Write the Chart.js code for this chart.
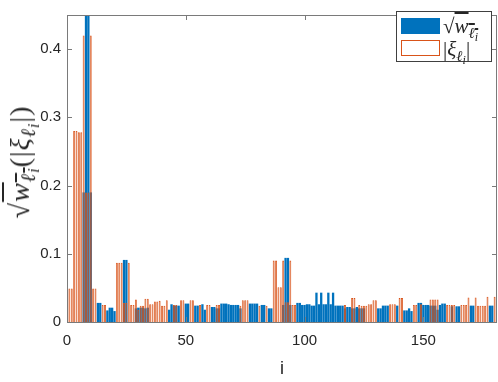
<!DOCTYPE html>
<html>
<head>
<meta charset="utf-8">
<script src="https://cdn.jsdelivr.net/npm/chart.js@4"></script>
<style>
  body { margin: 0; background: #fff; }
  #wrap { position: relative; width: 498px; height: 382px; overflow: hidden; }
  #ytitle {
    position: absolute; left: 20px; top: 162px;
    transform: translate(-50%, -50%) rotate(-90deg);
    white-space: nowrap; font-family: "Liberation Serif", serif; font-size: 28px; color: #262626;
    letter-spacing: 1px;
  }
  #xtitle {
    position: absolute; left: 282px; top: 368px; transform: translate(-50%, -50%);
    font-family: "Liberation Sans", Arial, sans-serif; font-size: 18px; color: #262626;
  }
  .m i { font-style: italic; }
  .ov { text-decoration: overline; }
  sub { font-size: 72%; vertical-align: -0.3em; line-height: 0; }
  sub sub { font-size: 80%; vertical-align: -0.25em; }
  #legend {
    position: absolute; left: 396px; top: 11px; width: 96px; height: 51px;
    border: 1px solid #404040; background: #fff; box-sizing: border-box;
  }
  .sw { position: absolute; left: 4px; width: 39px; height: 16px; box-sizing: border-box; }
  .lt { position: absolute; left: 46px; font-family: "Liberation Serif", serif; font-size: 21px; color: #262626; white-space: nowrap; line-height: 1; }
</style>
</head>
<body>
<div id="wrap">
  <canvas id="chart" width="498" height="382"></canvas>
  <div id="ytitle" class="m">&radic;<span class="ov"><i>w</i><sub><i>&#8467;</i><sub><i>i</i></sub></sub></span>(|<i>&xi;</i><sub><i>&#8467;</i><sub><i>i</i></sub></sub>|)</div>
  <div id="xtitle">i</div>
  <div id="legend">
    <div class="sw" style="top:6px;background:#0072BD"></div>
    <div class="lt m" style="top:4px">&radic;<span class="ov"><i>w</i><sub><i>&#8467;</i><sub><i>i</i></sub></sub></span></div>
    <div class="sw" style="top:28px;border:1px solid #D95319;background:#fff"></div>
    <div class="lt m" style="top:27px">|<i>&xi;</i><sub><i>&#8467;</i><sub><i>i</i></sub></sub>|</div>
  </div>
</div>
<script>
// values, index i = 1..180
const sqrtW = [
  0, 0, 0, 0, 0, 0, .190, .460, .460, .190,
  0, 0, .028, .028, 0, 0, .017, .021, .021, .016,
  0, 0, 0, .091, .091, 0, 0, 0, .020, .021,
  .021, .021, .020, .021, 0, 0, 0, 0, 0, 0,
  0, 0, .018, .026, .024, .024, .024, 0, 0, .027,
  .027, 0, 0, .024, .024, 0, .026, .018, 0, 0,
  .022, .022, .020, .020, .027, .027, .027, .026, .025, .025,
  .025, .025, .020, 0, 0, 0, .027, .027, .027, .027,
  0, .025, .025, 0, .020, .020, 0, 0, 0, 0,
  .025, .094, .094, .025, 0, 0, .028, .028, .025, .025,
  .026, .026, .024, .024, .043, .026, .043, .026, .026, .043,
  .026, .043, .024, .024, .024, .024, .020, .022, .022, .020,
  .020, .022, .020, .020, .020, 0, 0, 0, 0, 0,
  .020, .020, .024, .024, .024, 0, 0, 0, .024, 0,
  0, .017, .017, .020, .016, 0, 0, .028, .028, .025,
  .025, .025, .024, .024, .024, .018, .025, .027, .027, 0,
  0, .023, 0, .023, .023, 0, 0, 0, 0, .024,
  .024, 0, 0, 0, 0, 0, 0, .024, .024, 0
];
const absXi = [
  .049, .049, .280, .280, .278, .278, .420, .190, .190, .420,
  .049, .049, 0, 0, .025, .025, 0, 0, 0, 0,
  .087, .087, .087, .028, .028, .087, .025, .025, .033, .018,
  .024, .024, .034, .034, .026, .026, .030, .030, .031, .024,
  .024, .032, 0, 0, .025, .025, 0, .032, .032, 0,
  0, .032, .032, 0, 0, .025, 0, 0, .025, .025,
  0, 0, .025, .025, 0, 0, 0, 0, 0, 0,
  0, 0, .024, .032, .032, .032, 0, 0, 0, 0,
  .024, 0, 0, .024, 0, 0, .090, .090, .051, .051,
  .090, .029, .029, .090, .025, .025, 0, 0, 0, 0,
  0, 0, 0, 0, 0, 0, 0, 0, 0, 0,
  0, 0, 0, 0, 0, 0, .025, 0, 0, .035,
  .035, 0, .025, .024, .024, .024, .026, .026, .032, .032,
  0, 0, 0, 0, 0, .026, .026, .026, 0, .035,
  .035, 0, 0, 0, 0, .025, .025, 0, .026, 0,
  0, 0, .033, .033, .033, .033, 0, 0, 0, .025,
  .025, .025, .025, 0, 0, .025, .025, .025, .036, 0,
  0, .036, .024, .024, .024, .024, .037, 0, 0, .037
];
const idx = sqrtW.map((_, k) => k + 1);
const xTicks = [0, 50, 100, 150];
const yTicks = [0, 0.1, 0.2, 0.3, 0.4];

const font = { family: "'Liberation Sans', Arial, sans-serif", size: 15 };
const axisCol = "#262626";

// box around the axes plus inward ticks on all four sides, MATLAB style
const axisBox = {
  id: "axisBox",
  afterDatasetsDraw(c) {
    const { ctx, chartArea: a, scales: { x, y } } = c;
    ctx.save();
    ctx.strokeStyle = "#7a7a7a";
    ctx.lineWidth = 1;
    ctx.beginPath();
    xTicks.forEach(v => {
      const px = Math.round(x.getPixelForValue(v)) + 0.5;
      ctx.moveTo(px, a.bottom); ctx.lineTo(px, a.bottom - 5);
      ctx.moveTo(px, a.top); ctx.lineTo(px, a.top + 5);
    });
    yTicks.forEach(v => {
      const py = Math.round(y.getPixelForValue(v)) + 0.5;
      ctx.moveTo(a.left, py); ctx.lineTo(a.left + 5, py);
      ctx.moveTo(a.right, py); ctx.lineTo(a.right - 5, py);
    });
    ctx.stroke();
    ctx.strokeRect(Math.round(a.left) + 0.5, Math.round(a.top) + 0.5,
      Math.round(a.right - a.left) - 1, Math.round(a.bottom - a.top));
    ctx.restore();
  }
};

new Chart(document.getElementById("chart"), {
  type: "bar",
  data: {
    datasets: [
      {
        label: "sqrt w",
        data: idx.map((i, k) => ({ x: i, y: sqrtW[k] })),
        backgroundColor: "#0072BD",
        borderWidth: 0,
        barPercentage: 0.97,
        categoryPercentage: 1,
        inflateAmount: 0,
        order: 1
      },
      {
        label: "|xi|",
        data: idx.map((i, k) => ({ x: i, y: absXi[k] })),
        backgroundColor: "rgba(255,255,255,0)",
        borderColor: "#D95319",
        borderWidth: 0.8,
        barPercentage: 0.8,
        categoryPercentage: 1,
        inflateAmount: 0,
        order: 0
      }
    ]
  },
  options: {
    responsive: false,
    animation: false,
    grouped: false,
    layout: { padding: { top: 2, right: 1, left: 0, bottom: 0 } },
    plugins: { legend: { display: false }, tooltip: { enabled: false } },
    scales: {
      x: {
        type: "linear",
        min: 0, max: 181,
        offset: false,
        grid: { display: false, drawTicks: false },
        border: { display: false },
        afterBuildTicks: s => { s.ticks = xTicks.map(v => ({ value: v })); },
        ticks: { padding: 10, color: axisCol, font, maxRotation: 0 },
        afterFit: s => { s.height = 60; }
      },
      y: {
        min: 0, max: 0.45,
        grid: { display: false, drawTicks: false },
        border: { display: false },
        afterBuildTicks: s => { s.ticks = yTicks.map(v => ({ value: v })); },
        ticks: { padding: 6, color: axisCol, font },
        afterFit: s => { s.width = 67; }
      }
    }
  },
  plugins: [axisBox]
});
</script>
</body>
</html>
